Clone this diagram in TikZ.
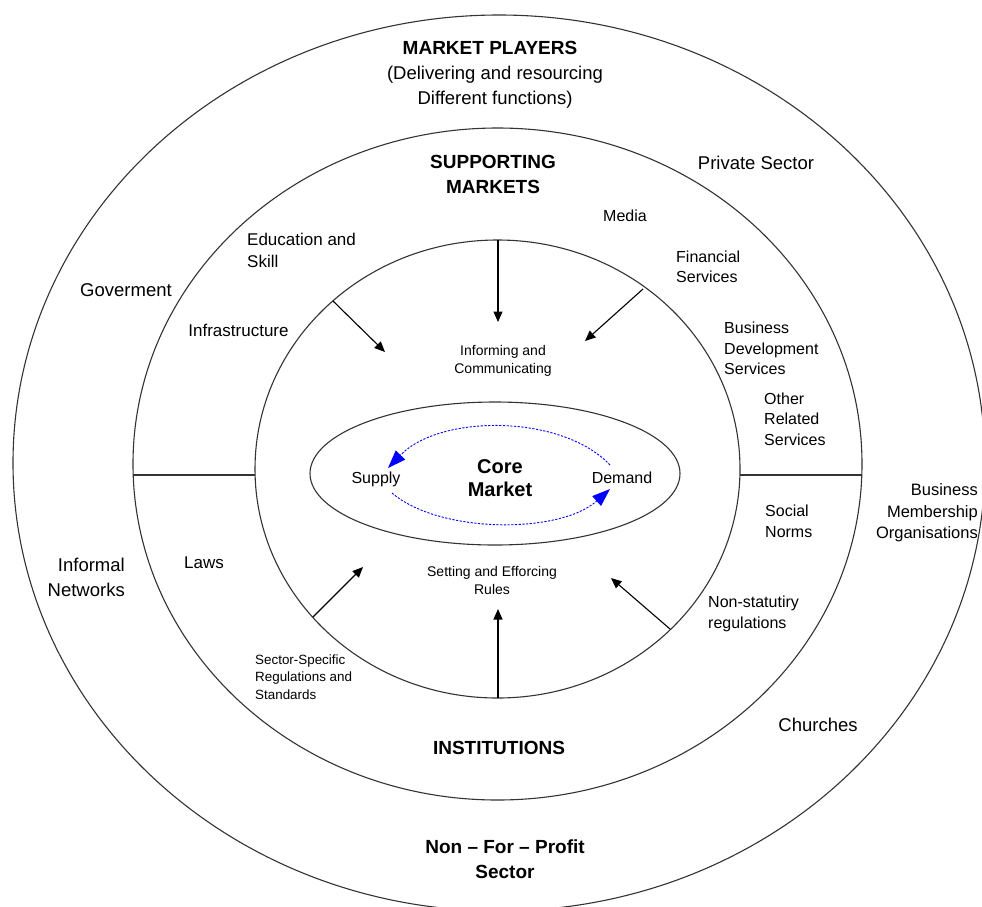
\documentclass[tikz,border=0pt]{standalone}
\usepackage{fontspec}
\setmainfont{Liberation Sans}
\usetikzlibrary{arrows.meta}
\begin{document}
\begin{tikzpicture}[x=1pt,y=-1pt,
  ring/.style={line width=1.1pt, draw=black!80},
  push/.style={line width=1.1pt, draw=black, -{Triangle[length=10.5pt,width=9pt]}},
  flow/.style={draw=blue, line width=0.9pt, dash pattern=on 2.2pt off 1.5pt,
               -{Triangle[length=18pt,width=13pt,fill=blue]}},
  tTitle/.style={inner sep=0pt, align=center, font=\bfseries\fontsize{19}{25}\selectfont},
  tCore/.style={inner sep=0pt, align=center, font=\bfseries\fontsize{20}{23}\selectfont},
  tOuter/.style={inner sep=0pt, font=\fontsize{18.5}{25}\selectfont},
  tBmo/.style={inner sep=0pt, font=\fontsize{16.5}{21.5}\selectfont},
  tMid/.style={inner sep=0pt, font=\fontsize{17}{22}\selectfont},
  tSmall/.style={inner sep=0pt, font=\fontsize{16}{20.5}\selectfont},
  tInner/.style={inner sep=0pt, align=center, font=\fontsize{14}{18}\selectfont},
  tTiny/.style={inner sep=0pt, align=left, font=\fontsize{13.4}{17.5}\selectfont}
]
\fill[white] (0,0) rectangle (982,906);
\useasboundingbox (0,0) rectangle (982,906);

% rings
\draw[ring] (499,463) ellipse [x radius=486pt, y radius=448pt];
\draw[ring] (497.5,464) ellipse [x radius=364.5pt, y radius=336pt];
\draw[ring] (497.5,469) ellipse [x radius=242.5pt, y radius=229pt];
\draw[ring] (495,473.5) ellipse [x radius=185pt, y radius=71.5pt];

% dividers between the upper and lower halves of the ring
\coordinate (midL) at (133,475);
\coordinate (innL) at (255,475);
\coordinate (innR) at (740,475);
\coordinate (midR) at (862,475);
\draw[ring] (midL) -- (innL);
\draw[ring] (innR) -- (midR);

% influence arrows on the core market
\coordinate (aTopS) at (498,240);   \coordinate (aTopE) at (498,322);
\coordinate (aTLS) at (333,301);    \coordinate (aTLE) at (385,352);
\coordinate (aTRS) at (643,289);    \coordinate (aTRE) at (585,341);
\coordinate (aBotS) at (498,698);   \coordinate (aBotE) at (498,609);
\coordinate (aBLS) at (313,617);    \coordinate (aBLE) at (363,567);
\coordinate (aBRS) at (670,629);    \coordinate (aBRE) at (611,578);
\draw[push] (aTopS) -- (aTopE);
\draw[push] (aTLS) -- (aTLE);
\draw[push] (aTRS) -- (aTRE);
\draw[push] (aBotS) -- (aBotE);
\draw[push] (aBLS) -- (aBLE);
\draw[push] (aBRS) -- (aBRE);

% outer ring
\node[tTitle] (mp) at (490,48) {MARKET PLAYERS};
\node[tOuter, align=center] (mpd) at (495,87.5) {(Delivering and resourcing\\Different functions)};
\node[tOuter] (priv) at (756,163) {Private Sector};
\node[tOuter] (gov) at (126,290) {Goverment};
\node[tOuter, align=right, anchor=east] (infn) at (125,577) {Informal\\Networks};
\node[tBmo, align=right, anchor=east] (bmo) at (978,513) {Business\\Membership\\Organisations};
\node[tOuter] (church) at (818,725) {Churches};
\node[tTitle] (nfp) at (505,859.5) {Non -- For -- Profit\\Sector};

% middle ring
\node[tTitle] (sm) at (493,174.5) {SUPPORTING\\MARKETS};
\node[tSmall] (media) at (625,216) {Media};
\node[tMid, align=left, anchor=west] (edu) at (247,250) {Education and\\Skill};
\node[tSmall, align=left, anchor=west] (fin) at (676,267) {Financial\\Services};
\node[tMid] (infra) at (238.5,330) {Infrastructure};
\node[tSmall, align=left, anchor=west] (bds) at (724,348.5) {Business\\Development\\Services};
\node[tSmall, align=left, anchor=west] (other) at (764,419) {Other\\Related\\Services};
\node[tSmall, align=left, anchor=west] (social) at (765,521.5) {Social\\Norms};
\node[tMid] (laws) at (204,563) {Laws};
\node[tSmall, align=left, anchor=west] (nonstat) at (708,614) {Non-statutiry\\regulations};
\node[tTiny, anchor=west] (sector) at (255,677) {Sector-Specific\\Regulations and\\Standards};
\node[tTitle] (inst) at (499,748) {INSTITUTIONS};

% inner ring
\node[tInner] (inform) at (503,361) {Informing and\\Communicating};
\node[tInner] (setting) at (492,580) {Setting and Efforcing\\Rules};

% core market
\node[tCore] (core) at (500,478.5) {Core\\Market};
\node[tSmall] (supply) at (376,479) {Supply};
\node[tSmall] (demand) at (622,478) {Demand};
\coordinate (dOut) at (610,465);
\coordinate (sIn) at (388,468);
\coordinate (sOut) at (392,493);
\coordinate (dIn) at (610,489);
\draw[flow] (dOut) .. controls (562,414) and (440,414) .. (sIn);
\draw[flow] (sOut) .. controls (440,534) and (560,534) .. (dIn);
\end{tikzpicture}
\end{document}
